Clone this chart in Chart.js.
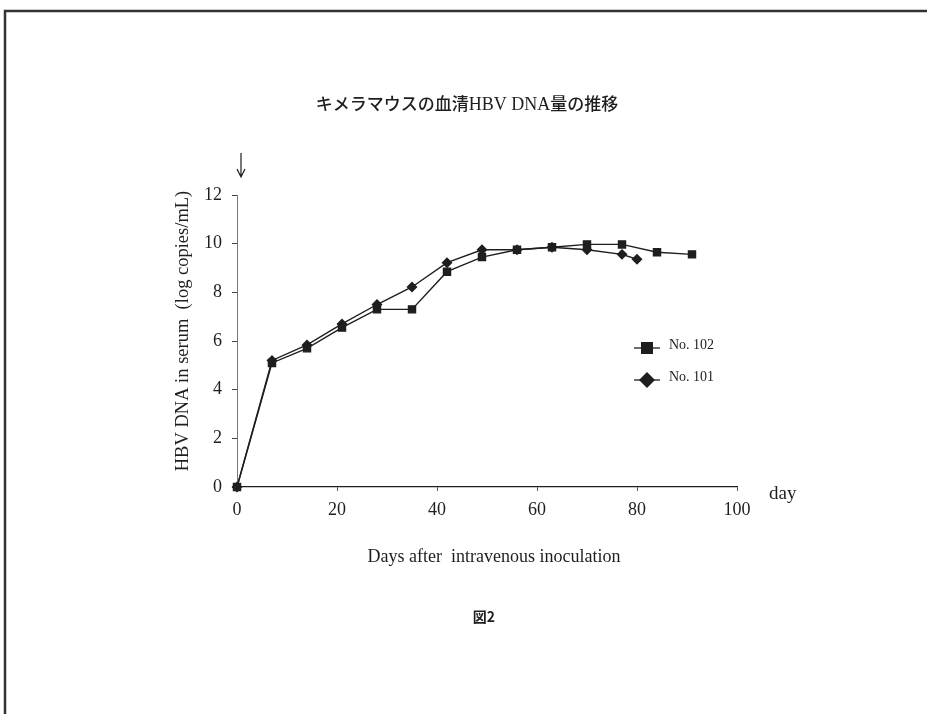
<!DOCTYPE html>
<html>
<head>
<meta charset="utf-8">
<script src="https://cdn.jsdelivr.net/npm/chart.js@4"></script>
<style>
  html, body { margin: 0; padding: 0; background: #fff; }
  #wrap { width: 927px; height: 714px; position: relative; }
</style>
</head>
<body>
<div id="wrap"><canvas id="chart" width="927" height="714"></canvas></div>
<script>
// values
const days102 = [0, 7, 14, 21, 28, 35, 42, 49, 56, 63, 70, 77, 84, 91];
const dna102 = [0, 5.1, 5.7, 6.55, 7.3, 7.3, 8.85, 9.45, 9.75, 9.85, 9.97, 9.97, 9.65, 9.56];
const days101 = [0, 7, 14, 21, 28, 35, 42, 49, 56, 63, 70, 77, 80];
const dna101 = [0, 5.2, 5.84, 6.7, 7.5, 8.22, 9.22, 9.75, 9.75, 9.85, 9.75, 9.56, 9.36];
const seriesLabels = [`No. 102`, `No. 101`];
const xTicks = [0, 20, 40, 60, 80, 100];
const yTicks = [0, 2, 4, 6, 8, 10, 12];

const ink = `#1e1e1e`;
const serif = `"Liberation Serif", "DejaVu Serif", serif`;
const gothic = `"Noto Sans CJK JP", sans-serif`;

const toPoints = (xs, ys) => xs.map((x, i) => ({x, y: ys[i]}));

// title mixes a gothic face for kana/kanji with serif for the latin part
const titleParts = [
  [`キメラマウスの血清`, `500 17px ${gothic}`],
  [`HBV DNA`, `18px ${serif}`],
  [`量の推移`, `500 17px ${gothic}`],
];

// page frame, title, axis captions, arrow and legend
const decorations = {
  id: `decorations`,
  beforeDraw(chart) {
    const ctx = chart.ctx;
    ctx.save();
    ctx.fillStyle = `#fff`;
    ctx.fillRect(0, 0, chart.width, chart.height);
    ctx.strokeStyle = `#333`;
    ctx.lineWidth = 2.5;
    ctx.beginPath();
    ctx.moveTo(5, 714);
    ctx.lineTo(5, 11);
    ctx.lineTo(927, 11);
    ctx.stroke();
    ctx.restore();
  },
  afterDraw(chart) {
    const ctx = chart.ctx;
    const {x} = chart.scales;
    ctx.save();
    ctx.fillStyle = ink;
    ctx.textBaseline = `alphabetic`;
    ctx.textAlign = `left`;

    let total = 0;
    titleParts.forEach(([t, f]) => { ctx.font = f; total += ctx.measureText(t).width; });
    let tx = 467 - total / 2;
    titleParts.forEach(([t, f]) => {
      ctx.font = f;
      ctx.fillText(t, tx, 110);
      tx += ctx.measureText(t).width;
    });

    ctx.textBaseline = `middle`;
    ctx.textAlign = `center`;
    ctx.font = `18px ${serif}`;
    ctx.fillText(`Days after  intravenous inoculation`, 494, 557);

    ctx.font = `bold 14px ${gothic}`;
    ctx.fillText(`図2`, 484, 617);

    ctx.font = `19px ${serif}`;
    ctx.textAlign = `left`;
    ctx.fillText(`day`, 769, 494);

    ctx.save();
    ctx.translate(183, 331);
    ctx.rotate(-Math.PI / 2);
    ctx.textAlign = `center`;
    ctx.font = `18.5px ${serif}`;
    ctx.fillText(`HBV DNA in serum  (log copies/mL)`, 0, 0);
    ctx.restore();

    // arrow marking the inoculation day
    const ax = x.getPixelForValue(0) + 4;
    ctx.strokeStyle = ink;
    ctx.lineWidth = 1.2;
    ctx.beginPath();
    ctx.moveTo(ax, 153);
    ctx.lineTo(ax, 177);
    ctx.moveTo(ax - 4, 169);
    ctx.lineTo(ax, 177);
    ctx.lineTo(ax + 4, 169);
    ctx.stroke();

    // legend
    const rows = [348, 380];
    chart.data.datasets.forEach((ds, i) => {
      const cy = rows[i];
      ctx.strokeStyle = ink;
      ctx.lineWidth = 1.3;
      ctx.beginPath();
      ctx.moveTo(634, cy);
      ctx.lineTo(660, cy);
      ctx.stroke();
      ctx.fillStyle = ink;
      ctx.beginPath();
      if (ds.pointStyle === `rect`) {
        ctx.rect(641, cy - 6, 12, 12);
      } else {
        ctx.moveTo(647, cy - 8);
        ctx.lineTo(655, cy);
        ctx.lineTo(647, cy + 8);
        ctx.lineTo(639, cy);
        ctx.closePath();
      }
      ctx.fill();
      ctx.font = `14px ${serif}`;
      ctx.textAlign = `left`;
      ctx.fillText(ds.label, 669, cy - 3);
    });
    ctx.restore();
  },
};

new Chart(document.getElementById(`chart`), {
  type: `line`,
  data: {
    datasets: [
      {
        label: seriesLabels[0],
        data: toPoints(days102, dna102),
        borderColor: ink,
        backgroundColor: ink,
        borderWidth: 1.4,
        pointStyle: `rect`,
        pointRadius: 5,
        pointHoverRadius: 5,
        tension: 0,
        clip: false,
      },
      {
        label: seriesLabels[1],
        data: toPoints(days101, dna101),
        borderColor: ink,
        backgroundColor: ink,
        borderWidth: 1.4,
        pointStyle: `rectRot`,
        pointRadius: 4.5,
        pointHoverRadius: 4.5,
        tension: 0,
        clip: false,
      },
    ],
  },
  options: {
    responsive: false,
    animation: false,
    events: [],
    layout: {padding: {left: 0, top: 195, right: 190, bottom: 0}},
    plugins: {
      legend: {display: false},
      title: {display: false},
      tooltip: {enabled: false},
    },
    scales: {
      x: {
        type: `linear`,
        min: 0,
        max: 100,
        afterBuildTicks: (scale) => { scale.ticks = xTicks.map((v) => ({value: v})); },
        afterFit: (scale) => { scale.height = 227; },
        grid: {drawOnChartArea: false, drawTicks: true, tickLength: 4, color: `#555`},
        border: {color: ink, width: 1.3},
        ticks: {color: ink, font: {family: serif, size: 18}, padding: 8, maxRotation: 0},
      },
      y: {
        min: 0,
        max: 12,
        afterBuildTicks: (scale) => { scale.ticks = yTicks.map((v) => ({value: v})); },
        afterFit: (scale) => { scale.width = 237; },
        grid: {drawOnChartArea: false, drawTicks: true, tickLength: 5, color: `#444`},
        border: {color: `#777`, width: 1, dash: [1, 1]},
        ticks: {color: ink, font: {family: serif, size: 18}, padding: 10},
      },
    },
  },
  plugins: [decorations],
});
</script>
</body>
</html>
